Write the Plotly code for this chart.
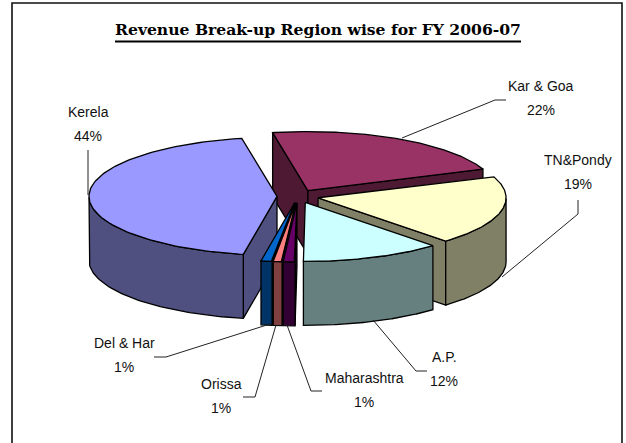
import numpy as np
import plotly.graph_objects as go

# ---- data (clockwise from the start angle) ----
categories = ["Kar & Goa", "TN&Pondy", "A.P.", "Maharashtra", "Orissa", "Del & Har", "Kerela"]
values = [22, 19, 12, 1.0, 0.75, 0.95, 44]
percent_labels = ["22%", "19%", "12%", "1%", "1%", "1%", "44%"]
top_colors = ["#993366", "#FFFFCC", "#CCFFFF", "#660066", "#FF8080", "#0066CC", "#9999FF"]
wall_colors = ["#4D1933", "#808066", "#668080", "#330033", "#804040", "#003366", "#4F4F80"]

# ---- pie geometry ----
START_ANGLE = 100.8
CX, CY, RX, RY = 297.8, 196.3, 188, 59
DEPTH, EXPLODE = 64, 20.8
PAINT_ORDER = ["Kar & Goa", "TN&Pondy", "Kerela", "A.P.", "Del & Har", "Orissa", "Maharashtra"]

# ---- label layout ----
name_pos = {"Kar & Goa": (541, 86), "TN&Pondy": (578, 160), "A.P.": (444, 357),
            "Maharashtra": (364, 378), "Orissa": (221, 384), "Del & Har": (124, 343), "Kerela": (88, 112)}
pct_offset = 24
leaders = {"Kar & Goa": [(402, 138), (495, 100), (506, 100)],
           "TN&Pondy": [(502, 277), (578, 214), (578, 200)],
           "A.P.": [(373, 320), (416, 371), (427, 371)],
           "Maharashtra": [(287, 325), (311, 391), (322, 391)],
           "Orissa": [(276, 325), (255, 397), (243, 397)],
           "Del & Har": [(270, 324), (166, 357), (154, 357)],
           "Kerela": [(88, 195), (88, 150)]}

LINE = dict(color="#000000", width=1.3)
fig = go.Figure()


def poly(xs, ys, color):
    fig.add_trace(go.Scatter(x=list(xs) + [xs[0]], y=list(ys) + [ys[0]], mode="lines", fill="toself",
                             fillcolor=color, line=LINE, hoverinfo="skip", showlegend=False))


total = sum(values)
edges = START_ANGLE - np.cumsum([0] + values) / total * 360
slices = {c: (edges[i], edges[i + 1], i) for i, c in enumerate(categories)}

for name in PAINT_ORDER:
    a0, a1, i = slices[name]
    mid = np.radians((a0 + a1) / 2)
    ax = CX + EXPLODE * np.cos(mid)
    ay = CY - EXPLODE * RY / RX * np.sin(mid)
    t = np.radians(np.linspace(a0, a1, 120))
    rx = ax + RX * np.cos(t)
    ry = ay - RY * np.sin(t)
    # cut walls that face the viewer
    for ang, visible in ((a0, np.cos(np.radians(a0)) < 0), (a1, np.cos(np.radians(a1)) > 0)):
        if visible:
            px = ax + RX * np.cos(np.radians(ang))
            py = ay - RY * np.sin(np.radians(ang))
            poly([ax, px, px, ax], [ay, py, py + DEPTH, ay + DEPTH], wall_colors[i])
    # outer wall: lower half of the rim only
    front = np.sin(t) <= 0
    if front.any():
        fx, fy = rx[front], ry[front]
        poly(np.r_[fx, fx[::-1]], np.r_[fy, fy[::-1] + DEPTH], wall_colors[i])
    poly(np.r_[ax, rx], np.r_[ay, ry], top_colors[i])

for name, pts in leaders.items():
    fig.add_trace(go.Scatter(x=[p[0] for p in pts], y=[p[1] for p in pts], mode="lines",
                             line=dict(color="#222222", width=1), hoverinfo="skip", showlegend=False))

for i, name in enumerate(categories):
    x, y = name_pos[name]
    for text, yy in ((name, y), (percent_labels[i], y + pct_offset)):
        fig.add_annotation(x=x, y=yy, text=text, showarrow=False, xanchor="center", yanchor="middle",
                           font=dict(family="Liberation Sans", size=14, color="#111111"))

fig.add_annotation(x=318, y=29, text="<b>Revenue Break-up Region wise for FY 2006-07</b>",
                   showarrow=False, xanchor="center", yanchor="middle",
                   font=dict(family="DejaVu Serif", size=15.6, color="#000000"))
fig.add_shape(type="line", x0=115, y0=41.5, x1=521, y1=41.5, line=dict(color="#000000", width=2))

fig.add_shape(type="rect", x0=12, y0=3, x1=622, y1=460, line=dict(color="#111111", width=1.6),
              fillcolor="rgba(0,0,0,0)")

fig.update_layout(width=626, height=443, margin=dict(l=0, r=0, t=0, b=0),
                  paper_bgcolor="white", plot_bgcolor="white", showlegend=False,
                  xaxis=dict(range=[0, 626], visible=False, fixedrange=True),
                  yaxis=dict(range=[443, 0], visible=False, fixedrange=True))
fig.write_html("out.html", config={"displayModeBar": False},
               post_script="document.body.style.margin='0';document.body.style.overflow='hidden';")
